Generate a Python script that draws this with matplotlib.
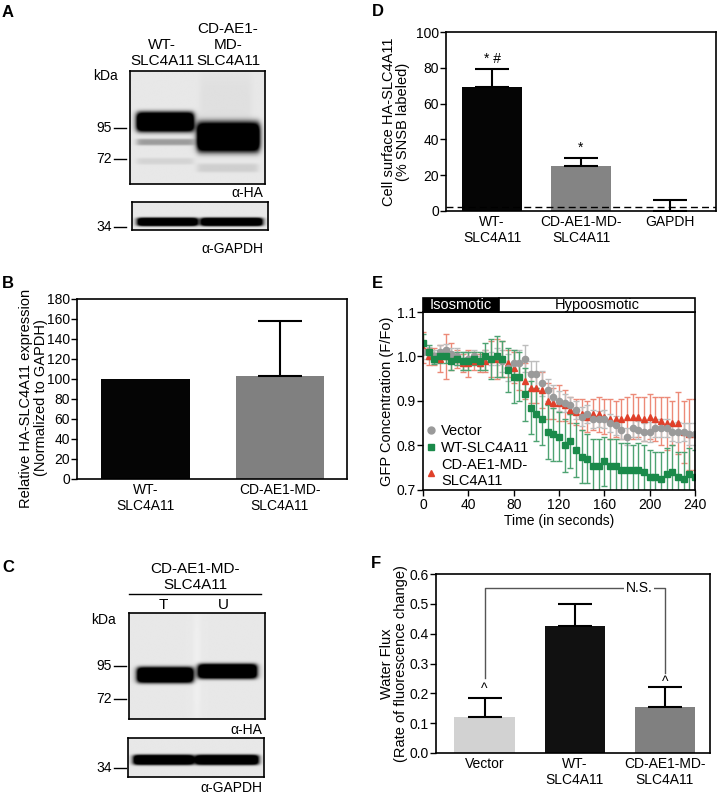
import numpy as np
import matplotlib
matplotlib.use("Agg")
import matplotlib.pyplot as plt
from matplotlib.lines import Line2D
from matplotlib.patches import Rectangle

plt.rcParams['font.family'] = ['Liberation Sans', 'DejaVu Sans']
plt.rcParams['font.size'] = 10

W, H = 717, 797

# ---- panel B data
b_labels = ['WT-\nSLC4A11', 'CD-AE1-MD-\nSLC4A11']
b_values = [100, 103]
b_errors = [0, 55]
b_colors = ['#050505', '#808080']

# ---- panel D data
d_labels = ['WT-\nSLC4A11', 'CD-AE1-MD-\nSLC4A11', 'GAPDH']
d_values = [69, 25, 0]
d_errors = [10.5, 4.8, 6]
d_colors = ['#050505', '#848484', 'none']
d_marks = ['* #', '*', '']
d_baseline = 2

# ---- panel E data (time course, mean and SEM)
time_s = np.arange(0, 245, 5)
vector_mean = [1.01, 1.01, 1.00, 1.01, 1.015, 1.005, 1.00, 0.99, 0.995, 1.00,
               0.99, 1.00, 0.995, 1.00, 0.99, 0.975, 0.985, 0.985, 0.995, 0.96,
               0.96, 0.94, 0.925, 0.91, 0.90, 0.895, 0.89, 0.88, 0.865, 0.87,
               0.86, 0.86, 0.86, 0.85, 0.845, 0.835, 0.82, 0.84, 0.835, 0.83,
               0.83, 0.84, 0.84, 0.84, 0.83, 0.83, 0.83, 0.825, 0.825]
vector_err = [0.015, 0.012, 0.015, 0.015, 0.012, 0.015, 0.02, 0.02, 0.015, 0.015,
              0.012, 0.015, 0.015, 0.02, 0.025, 0.03, 0.03, 0.03, 0.03, 0.03,
              0.03, 0.028, 0.025, 0.025, 0.022, 0.02, 0.02, 0.02, 0.022, 0.02,
              0.02, 0.018, 0.02, 0.02, 0.022, 0.02, 0.02, 0.02, 0.02, 0.02,
              0.022, 0.02, 0.02, 0.02, 0.02, 0.022, 0.02, 0.025, 0.025]
wt_mean = [1.03, 1.01, 0.995, 1.00, 1.00, 0.99, 0.995, 0.99, 0.99, 0.995,
           0.99, 1.00, 0.995, 1.00, 0.995, 0.97, 0.955, 0.955, 0.915, 0.885,
           0.87, 0.86, 0.83, 0.825, 0.82, 0.80, 0.81, 0.79, 0.775, 0.77,
           0.755, 0.755, 0.765, 0.755, 0.755, 0.745, 0.745, 0.745, 0.745, 0.74,
           0.73, 0.73, 0.725, 0.735, 0.74, 0.73, 0.725, 0.735, 0.73]
wt_err = [0.02, 0.015, 0.012, 0.015, 0.015, 0.02, 0.015, 0.02, 0.02, 0.015,
          0.02, 0.03, 0.045, 0.045, 0.04, 0.05, 0.06, 0.055, 0.06, 0.06,
          0.06, 0.06, 0.06, 0.06, 0.055, 0.06, 0.06, 0.06, 0.06, 0.055,
          0.06, 0.06, 0.055, 0.06, 0.06, 0.06, 0.06, 0.055, 0.06, 0.06,
          0.06, 0.055, 0.06, 0.06, 0.06, 0.055, 0.06, 0.06, 0.06]
cd_mean = [1.02, 1.00, 1.00, 0.995, 1.00, 1.00, 0.995, 0.985, 0.985, 0.99,
           0.985, 0.99, 0.995, 0.995, 0.995, 0.985, 0.975, 0.955, 0.945, 0.93,
           0.93, 0.925, 0.90, 0.895, 0.895, 0.89, 0.88, 0.875, 0.87, 0.865,
           0.87, 0.87, 0.865, 0.86, 0.86, 0.86, 0.865, 0.865, 0.865, 0.86,
           0.865, 0.86, 0.855, 0.85, 0.85, 0.85, 0.83, 0.825, 0.825]
cd_err = [0.035, 0.02, 0.02, 0.03, 0.05, 0.03, 0.02, 0.02, 0.03, 0.02,
          0.02, 0.025, 0.04, 0.045, 0.04, 0.03, 0.035, 0.03, 0.04, 0.035,
          0.035, 0.04, 0.04, 0.035, 0.04, 0.035, 0.03, 0.03, 0.035, 0.035,
          0.035, 0.04, 0.04, 0.045, 0.04, 0.045, 0.045, 0.05, 0.045, 0.05,
          0.05, 0.05, 0.055, 0.06, 0.05, 0.07, 0.07, 0.08, 0.08]
iso_end = 67

# ---- panel F data
f_labels = ['Vector', 'WT-\nSLC4A11', 'CD-AE1-MD-\nSLC4A11']
f_values = [0.12, 0.425, 0.155]
f_errors = [0.063, 0.075, 0.067]
f_colors = ['#d2d2d2', '#111111', '#808080']
f_marks = ['^', '', '^']
f_mark_y = [0.238, 0, 0.262]
ns_top = 0.554
ns_ends = [0.252, 0.267]

# ---- blot bands: (x0, x1, y centre, half thickness, darkness), blot-fraction coords
blot_a_ha = [(0.05, 0.47, 0.45, 0.088, 1.6), (0.05, 0.47, 0.63, 0.03, 0.3),
             (0.05, 0.47, 0.80, 0.03, 0.08), (0.50, 0.96, 0.585, 0.133, 1.6),
             (0.52, 0.90, 0.30, 0.30, 0.035), (0.50, 0.95, 0.86, 0.04, 0.1)]
blot_a_gapdh = [(0.04, 0.48, 0.71, 0.15, 1.5), (0.51, 0.96, 0.71, 0.15, 1.5)]
blot_c_ha = [(0.06, 0.47, 0.585, 0.075, 1.6), (0.51, 0.94, 0.55, 0.07, 1.6),
             (0.48, 0.52, 0.5, 0.6, -0.04)]
blot_c_gapdh = [(0.04, 0.48, 0.56, 0.13, 1.5), (0.50, 0.96, 0.56, 0.13, 1.5)]


def rect(l, t, r, b):
    return [l / W, 1 - b / H, (r - l) / W, (b - t) / H]


def blot(l, t, r, b, bands, bg=0.09):
    ax = fig.add_axes(rect(l, t, r, b))
    yy, xx = np.mgrid[0:1:150j, 0:1:200j]
    dark = np.full(xx.shape, bg)
    for x0, x1, yc, hw, a in bands:
        xprof = 1 / (1 + np.exp(-(xx - x0) / 0.012)) / (1 + np.exp((xx - x1) / 0.012))
        yprof = np.exp(-((yy - yc) / hw) ** 4)
        dark += a * xprof * yprof
    img = 1 - np.clip(dark, 0, 1)
    ax.imshow(img, cmap='gray', vmin=0, vmax=1, extent=[0, 1, 1, 0],
              aspect='auto', interpolation='bilinear')
    ax.set_xticks([])
    ax.set_yticks([])
    for s in ax.spines.values():
        s.set_linewidth(1.2)
    return ax


def style(ax, xpad=4):
    for s in ax.spines.values():
        s.set_linewidth(1.2)
    ax.tick_params(axis='y', length=4, width=1, direction='out', labelsize=10, pad=1)
    ax.tick_params(axis='x', length=0, labelsize=10, pad=xpad)


fig = plt.figure(figsize=(W / 100, H / 100), dpi=100)

# overlay for panel letters and blot annotations, pixel coordinates
ov = fig.add_axes([0, 0, 1, 1])
ov.set_xlim(0, W)
ov.set_ylim(H, 0)
ov.axis('off')

for letter, x, y in [('A', 2, 12), ('B', 2, 284), ('C', 2, 567),
                     ('D', 372, 11), ('E', 372, 284), ('F', 371, 564)]:
    ov.text(x, y, letter, fontsize=12, fontweight='bold', ha='left', va='center')

# ---- panel A blots
blot(130, 71, 265, 184, blot_a_ha)
blot(132, 202, 268, 230, blot_a_gapdh)
ov.text(162, 68, 'WT-\nSLC4A11', ha='center', va='bottom', fontsize=11)
ov.text(228, 68, 'CD-AE1-\nMD-\nSLC4A11', ha='center', va='bottom', fontsize=11)
ov.text(105, 76, 'kDa', ha='center', va='center', fontsize=10)
for lab, y in [('95', 128), ('72', 159), ('34', 227)]:
    ov.text(112, y, lab, ha='right', va='center', fontsize=10)
    ov.plot([114, 126], [y, y], color='black', lw=1)
ov.text(263, 193, 'α-HA', ha='right', va='center', fontsize=10)
ov.text(263, 249, 'α-GAPDH', ha='right', va='center', fontsize=10)

# ---- panel C blots
blot(129, 613, 265, 719, blot_c_ha)
blot(128, 738, 264, 777, blot_c_gapdh)
ov.text(195, 592, 'CD-AE1-MD-\nSLC4A11', ha='center', va='bottom', fontsize=11)
ov.plot([129, 261], [594, 594], color='black', lw=1)
ov.text(163, 605, 'T', ha='center', va='center', fontsize=11)
ov.text(223, 605, 'U', ha='center', va='center', fontsize=11)
ov.text(103, 620, 'kDa', ha='center', va='center', fontsize=10)
for lab, y in [('95', 666), ('72', 699), ('34', 768)]:
    ov.text(112, y, lab, ha='right', va='center', fontsize=10)
    ov.plot([114, 126], [y, y], color='black', lw=1)
ov.text(262, 730, 'α-HA', ha='right', va='center', fontsize=10)
ov.text(262, 788, 'α-GAPDH', ha='right', va='center', fontsize=10)

# ---- panel B
axb = fig.add_axes(rect(77, 299, 347, 479))
xb = np.arange(len(b_values))
axb.bar(xb, b_values, width=0.66, color=b_colors)
for i in range(len(b_values)):
    if b_errors[i] > 0:
        axb.errorbar(xb[i], b_values[i], yerr=[[0], [b_errors[i]]], fmt='none',
                     ecolor='black', elinewidth=1.5, capsize=16, capthick=1.5)
axb.set_xlim(-0.51, 1.5)
axb.set_ylim(0, 180)
axb.set_yticks(range(0, 181, 20))
axb.set_xticks(xb)
axb.set_xticklabels(b_labels, fontsize=10.5)
axb.set_ylabel('Relative HA-SLC4A11 expression\n(Normalized to GAPDH)', fontsize=10.5,
               linespacing=1.05)
axb.yaxis.set_label_coords(-0.108, 0.45)
style(axb, xpad=3)

# ---- panel D
axd = fig.add_axes(rect(446, 32, 716, 211))
xd = np.arange(len(d_values))
axd.bar(xd, d_values, width=0.67, color=d_colors)
axd.errorbar(xd, d_values, yerr=[np.zeros(len(d_errors)), d_errors], fmt='none',
             ecolor='black', elinewidth=1.5, capsize=12, capthick=1.5)
axd.axhline(d_baseline, color='black', lw=1, ls=(0, (5, 3)))
for i in range(len(d_values)):
    if d_marks[i]:
        axd.text(xd[i], d_values[i] + d_errors[i] + 1.5, d_marks[i], ha='center',
                 va='bottom', fontsize=10)
axd.set_xlim(-0.52, 2.52)
axd.set_ylim(0, 100)
axd.set_yticks(range(0, 101, 20))
axd.set_xticks(xd)
axd.set_xticklabels(d_labels, fontsize=10)
axd.set_ylabel('Cell surface HA-SLC4A11\n(% SNSB labeled)', fontsize=10.5,
               labelpad=4, linespacing=1.05)
style(axd, xpad=3)

# ---- panel E
axe = fig.add_axes(rect(423, 312, 695, 490))
series = [
    (cd_mean, cd_err, '^', '#e0402a', '#ec8a78', 'CD-AE1-MD-\nSLC4A11'),
    (vector_mean, vector_err, 'o', '#9a9a9a', '#bdbdbd', 'Vector'),
    (wt_mean, wt_err, 's', '#1a8a4a', '#4ea372', 'WT-SLC4A11'),
]
handles = {}
for mean, err, mk, col, ecol, lab in series:
    axe.errorbar(time_s, mean, yerr=err, fmt=mk, color=col, ecolor=ecol, ms=4.5,
                 mec=col, elinewidth=1, capsize=2.5, capthick=1)
    handles[lab] = Line2D([], [], ls='none', marker=mk, color=col, ms=5)
order = ['Vector', 'WT-SLC4A11', 'CD-AE1-MD-\nSLC4A11']
axe.legend([handles[k] for k in order], order, loc='lower left', frameon=False,
           fontsize=10.5, handlelength=0.8, handletextpad=0.3, labelspacing=0.2,
           borderaxespad=0.05, borderpad=0.1)
axe.set_xlim(0, 240)
axe.set_ylim(0.7, 1.1)
axe.set_xticks(range(0, 241, 40))
axe.set_yticks([0.7, 0.8, 0.9, 1.0, 1.1])
axe.set_yticklabels(['0.7', '0.8', '0.9', '1.0', '1.1'])
axe.set_xlabel('Time (in seconds)', fontsize=10, labelpad=1)
axe.set_ylabel('GFP Concentration (F/Fo)', fontsize=10.5, labelpad=2)
style(axe)
axe.tick_params(axis='x', length=4, width=1, pad=2)

axi = fig.add_axes(rect(423, 298, 695, 312))
axi.set_xlim(0, 240)
axi.set_ylim(0, 1)
axi.axis('off')
axi.add_patch(Rectangle((0, 0), iso_end, 1, fc='black', ec='black', lw=1.2, clip_on=False))
axi.add_patch(Rectangle((iso_end, 0), 240 - iso_end, 1, fc='white', ec='black', lw=1.2,
                        clip_on=False))
axi.text(iso_end / 2, 0.5, 'Isosmotic', color='white', ha='center', va='center', fontsize=10.5)
axi.text((iso_end + 240) / 2, 0.5, 'Hypoosmotic', color='black', ha='center', va='center',
         fontsize=10.5)

# ---- panel F
axf = fig.add_axes(rect(436, 574, 710, 753))
xf = np.arange(len(f_values))
axf.bar(xf, f_values, width=0.67, color=f_colors)
axf.errorbar(xf, f_values, yerr=[np.zeros(len(f_errors)), f_errors], fmt='none',
             ecolor='black', elinewidth=1.5, capsize=12.5, capthick=1.5)
for i in range(len(f_values)):
    if f_marks[i]:
        axf.text(xf[i], f_mark_y[i], f_marks[i], ha='center', va='top', fontsize=10)
axf.plot([0, 0, 2, 2], [ns_ends[0], ns_top, ns_top, ns_ends[1]], color='#555555', lw=1)
axf.text(1.71, ns_top, 'N.S.', ha='center', va='center', fontsize=10,
         bbox=dict(fc='white', ec='none', pad=1))
axf.set_xlim(-0.54, 2.5)
axf.set_ylim(0, 0.6)
axf.set_yticks([0.0, 0.1, 0.2, 0.3, 0.4, 0.5, 0.6])
axf.set_yticklabels(['0.0', '0.1', '0.2', '0.3', '0.4', '0.5', '0.6'])
axf.set_xticks(xf)
axf.set_xticklabels(f_labels, fontsize=10)
axf.set_ylabel('Water Flux\n(Rate of fluorescence change)', fontsize=10.5,
               linespacing=1.05)
axf.yaxis.set_label_coords(-0.102, 0.5)
style(axf, xpad=3)

fig.savefig('out.png', dpi=100)
